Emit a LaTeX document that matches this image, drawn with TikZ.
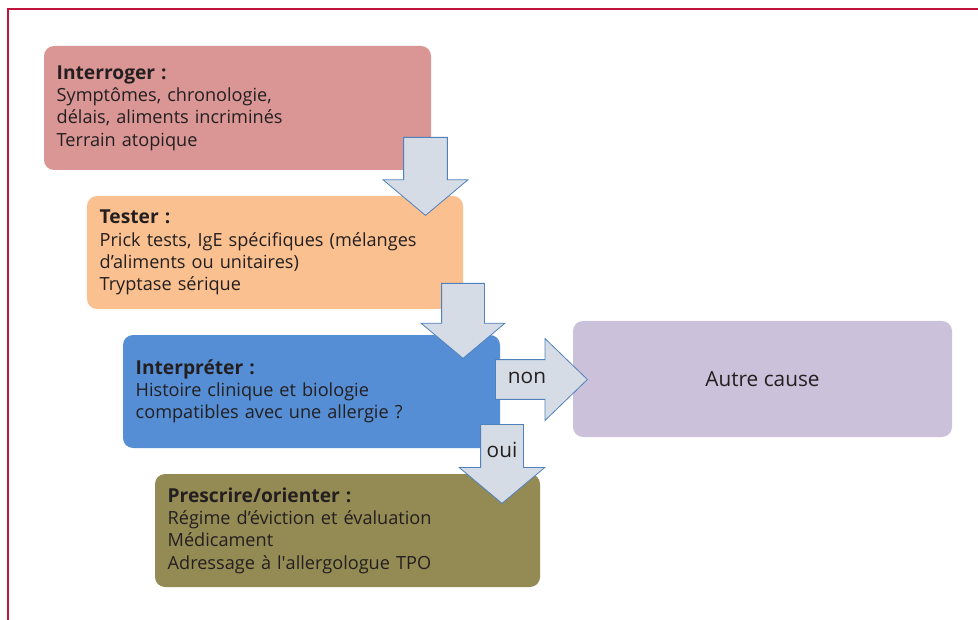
\documentclass[tikz,border=0pt]{standalone}
\usepackage{fontspec}
\setmainfont{Open Sans}
\usetikzlibrary{shapes.arrows, positioning}
\definecolor{askFill}{HTML}{D99694}
\definecolor{testFill}{HTML}{FAC090}
\definecolor{readFill}{HTML}{558ED5}
\definecolor{actFill}{HTML}{948A54}
\definecolor{otherFill}{HTML}{CCC1DA}
\definecolor{arrFill}{HTML}{D6DCE5}
\definecolor{arrStroke}{HTML}{4F81BD}
\definecolor{frameRed}{HTML}{C0143C}
\definecolor{inkDark}{HTML}{231F20}
\newcommand{\steptitle}[1]{{\fontsize{14.4}{16.7}\selectfont\bfseries #1}}
\tikzset{
  chart/.style = {
    font=\fontsize{13.6}{16.7}\selectfont, text=inkDark,
  },
  stage/.style = {
    rectangle, rounded corners=7.5pt, draw=none, align=left,
    inner xsep=9.5pt, inner ysep=0pt,
  },
  blockarr/.style = {
    single arrow, draw=arrStroke, fill=arrFill, line width=0.6pt,
    minimum width=0pt, inner xsep=0pt, single arrow head extend=15.4pt,
    single arrow tip angle=100, anchor=tail,
  },
  frameline/.style = {draw=frameRed, line width=1.2pt},
  lbl/.style = {inner sep=0pt, font=\fontsize{15.6}{16}\selectfont},
}
\begin{document}
\begin{tikzpicture}[chart, x=0.75pt, y=-0.75pt]
\useasboundingbox (0,0) rectangle (978,620);
\draw[frameline] (8,620) -- (8,9) -- (978,9);

% steps
\node[stage, fill=askFill, minimum width=290.25pt, minimum height=93pt,
  text width=271.25pt] (ask) at (237.5,108)
  {\steptitle{Interroger :}\\Symptômes, chronologie,\\délais, aliments incriminés\\Terrain atopique};
\node[stage, fill=testFill, minimum width=282pt, minimum height=84.75pt,
  text width=263pt] (test) at (275,252.5)
  {\steptitle{Tester :}\\Prick tests, IgE spécifiques (mélanges\\d’aliments ou unitaires)\\Tryptase sérique};
\node[stage, fill=readFill, minimum width=282.75pt, minimum height=84.75pt,
  text width=263.75pt] (read) at (311.5,391.5)
  {\steptitle{Interpréter :}\\Histoire clinique et biologie\\compatibles avec une allergie ?};
\node[stage, fill=actFill, minimum width=288.75pt, minimum height=84.75pt,
  text width=269.75pt] (act) at (347.5,530.5)
  {\steptitle{Prescrire/orienter :}\\Régime d’éviction et évaluation\\Médicament\\Adressage à l\textquotesingle allergologue TPO};
\node[stage, fill=otherFill, minimum width=284.25pt, minimum height=87pt,
  align=center] (other) at (762.5,379)
  {\fontsize{15.6}{16}\selectfont Autre cause};

% block arrows
\node[blockarr, rotate=-90, minimum height=58.5pt, inner ysep=16.1pt]
  (a1) at (425.5,137) {};
\node[blockarr, rotate=-90, minimum height=56.25pt, inner ysep=15.75pt]
  (a2) at (463,283) {};
\node[blockarr, minimum height=69pt, inner ysep=14.6pt,
  single arrow head extend=15.75pt, single arrow tip angle=88]
  (no) at (495,379.5) {};
\node[blockarr, rotate=-90, minimum height=59.25pt, inner ysep=15.75pt,
  single arrow head extend=16.1pt]
  (yes) at (502,424) {};
\node[lbl] (nolbl) at (527,378) {non};
\node[lbl] (yeslbl) at (502,450) {oui};

\end{tikzpicture}
\end{document}
